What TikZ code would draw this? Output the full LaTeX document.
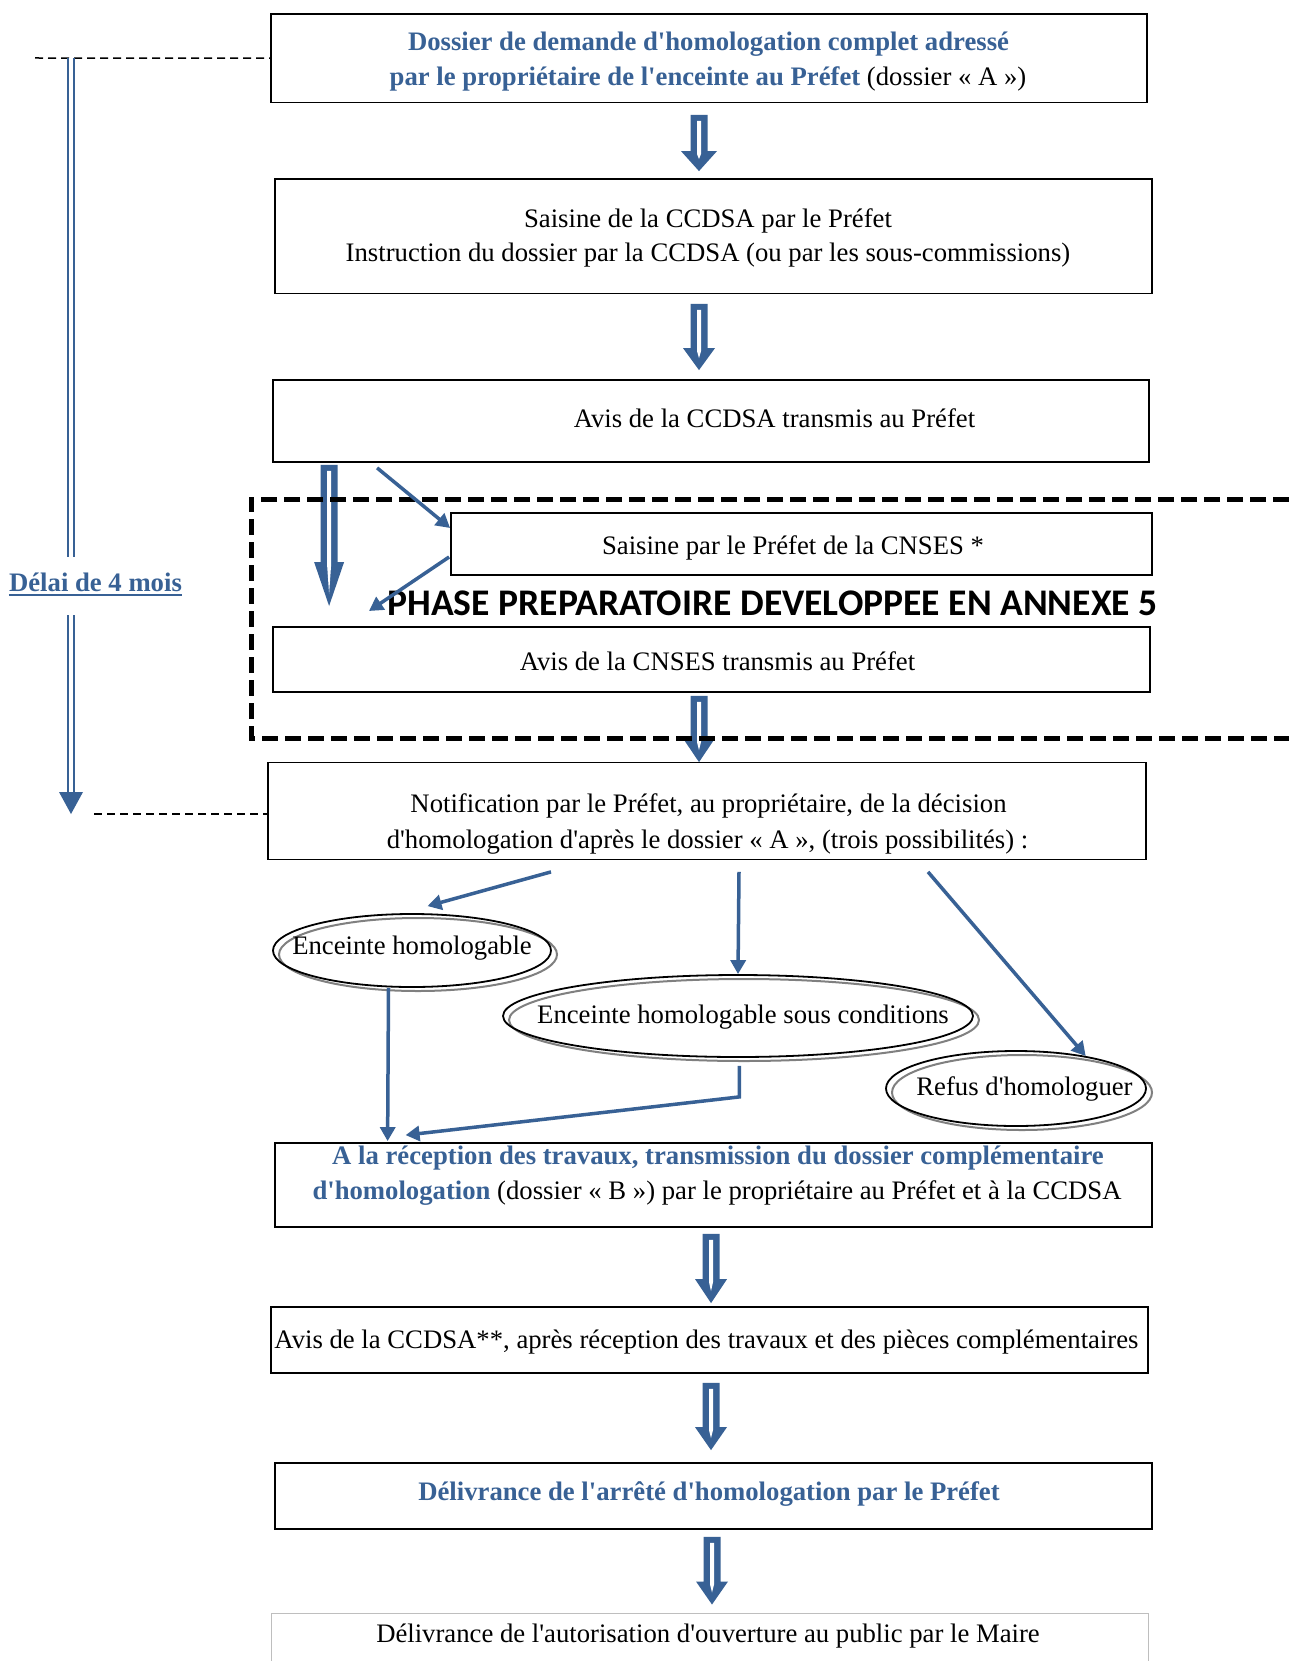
\documentclass[tikz,border=0pt]{standalone}
\usepackage{fontspec}
\setmainfont{Liberation Serif}[Ligatures=TeXOff]
\newfontfamily\calib{Carlito}
\usetikzlibrary{shapes.geometric,arrows.meta,calc}
\definecolor{ablue}{RGB}{56,97,149}
\definecolor{egray}{RGB}{128,128,128}
\definecolor{lgray}{RGB}{190,190,190}
% hollow block arrow: start, end, head length, head half width
\newcommand{\blockarr}[4]{%
  \fill[ablue] let \p1=(#1), \p2=(#2) in
    (\x1-8.5pt,\y1) -- (\x1+8.5pt,\y1) -- (\x1+8.5pt,\y2+#3) -- (\x1+#4,\y2+#3)
    -- (\x1,\y2) -- (\x1-#4,\y2+#3) -- (\x1-8.5pt,\y2+#3) -- cycle;
  \fill[white] let \p1=(#1), \p2=(#2) in
    (\x1-2pt,\y1-6pt) -- (\x1+2pt,\y1-6pt) -- (\x1+2pt,\y2+#3-3pt)
    -- (\x1,\y2+12pt) -- (\x1-2pt,\y2+#3-3pt) -- cycle;}
\tikzset{
  box/.style={draw=black, line width=1.8pt, rectangle, inner sep=0pt},
  lbox/.style={draw=lgray, line width=1pt, rectangle, inner sep=0pt},
  ell/.style={draw=black, line width=1.8pt, ellipse, inner sep=0pt},
  txt/.style={anchor=base, inner sep=0pt},
  bb/.style={txt, text=ablue, font=\fontsize{26.7pt}{32pt}\selectfont\bfseries},
  thinarr/.style={draw=ablue, line width=3.5pt, -{Triangle[length=14pt,width=15pt]}},
  thindash/.style={draw=black, line width=1.5pt, dash pattern=on 8pt off 5pt},
  phasebox/.style={draw=black, line width=5pt, dash pattern=on 16pt off 7pt},
}
\begin{document}
\begin{tikzpicture}[x=1pt,y=-1pt,font=\fontsize{26.7pt}{32pt}\selectfont]
\useasboundingbox (0,0) rectangle (1289,1661);
\fill[white] (0,0) rectangle (1289,1661);

% boxes
\node[box, minimum width=876pt, minimum height=88.5pt] (b1) at (709,58.25) {};
\node[box, minimum width=877pt, minimum height=114.5pt] (b2) at (713.5,236.25) {};
\node[box, minimum width=876pt, minimum height=82pt] (b3) at (711,421) {};
\node[box, minimum width=701pt, minimum height=62pt] (c1) at (801.5,544) {};
\node[box, minimum width=877pt, minimum height=65pt] (c2) at (711.5,659.5) {};
\node[box, minimum width=878pt, minimum height=97pt] (nf) at (707,811) {};
\node[box, minimum width=877pt, minimum height=84pt] (b6) at (713.5,1185) {};
\node[box, minimum width=877pt, minimum height=66pt] (b7) at (709.5,1340) {};
\node[box, minimum width=877pt, minimum height=66pt] (b8) at (713.5,1496) {};
\node[lbox, minimum width=877pt, minimum height=52pt] (b9) at (709.5,1639) {};

% ellipses (grey offset outline, then black)
\draw[egray, line width=2pt] (418,954.5) ellipse [x radius=139pt, y radius=36.5pt];
\draw[egray, line width=2pt] (744,1020) ellipse [x radius=235pt, y radius=41pt];
\draw[egray, line width=2pt] (1022,1092.5) ellipse [x radius=130pt, y radius=37.5pt];
\node[ell, minimum width=278pt, minimum height=73pt] (e1) at (412,950.5) {};
\node[ell, minimum width=470pt, minimum height=82pt] (e2) at (738,1016) {};
\node[ell, minimum width=260pt, minimum height=75pt] (e3) at (1016,1088.5) {};

% texts
\node[bb] (t1a) at (708.5,51) {Dossier de demande d'homologation complet adressé};
\node[txt] (t1b) at (708,86) {{\bfseries\color{ablue}par le propriétaire de l'enceinte au Préfet} (dossier « A »)};
\node[txt] (t2a) at (708,227.5) {Saisine de la CCDSA par le Préfet};
\node[txt] (t2b) at (708,262) {Instruction du dossier par la CCDSA (ou par les sous-commissions)};
\node[txt] (t3) at (774.5,427.5) {Avis de la CCDSA transmis au Préfet};
\node[txt] (tc1) at (793,554.5) {Saisine par le Préfet de la CNSES *};
\node[txt, font=\calib\fontsize{37.6pt}{42pt}\selectfont\bfseries] (tph) at (772.5,615) {PHASE PREPARATOIRE DEVELOPPEE EN ANNEXE 5};
\node[txt] (tc2) at (717.5,670.5) {Avis de la CNSES transmis au Préfet};
\node[txt] (tn1) at (708.5,812.5) {Notification par le Préfet, au propriétaire, de la décision};
\node[txt] (tn2) at (707.5,848) {d'homologation d'après le dossier « A », (trois possibilités) :};
\node[txt] (te1) at (412,954) {Enceinte homologable};
\node[txt] (te2) at (743,1023) {Enceinte homologable sous conditions};
\node[txt] (te3) at (1024.5,1095) {Refus d'homologuer};
\node[bb] (t6a) at (718,1164.5) {A la réception des travaux, transmission du dossier complémentaire};
\node[txt] (t6b) at (717,1199.5) {{\bfseries\color{ablue}d'homologation} (dossier « B ») par le propriétaire au Préfet et à la CCDSA};
\node[txt] (t7) at (706.5,1348) {Avis de la CCDSA**, après réception des travaux et des pièces complémentaires};
\node[bb] (t8) at (709,1500.5) {Délivrance de l'arrêté d'homologation par le Préfet};
\node[txt] (t9) at (708,1642) {Délivrance de l'autorisation d'ouverture au public par le Maire};
\node[bb] (tdl) at (95.5,591.5) {Délai de 4 mois};
\draw[ablue, line width=2pt] ([yshift=-3pt]tdl.base west) -- ([yshift=-3pt]tdl.base east);

% delay column
\coordinate (d0) at (35,58);
\coordinate (v1) at (71,58);
\coordinate (v2) at (71,557);
\coordinate (v3) at (71,615);
\coordinate (v4) at (71,792);
\coordinate (d1) at (94,814);
\draw[thindash] (d0) -- (b1.west);
\draw[thindash] (d1) -- ($(nf.west)+(0,3)$);
\draw[ablue, line width=2pt, double=white, double distance=4pt] (v1) -- (v2);
\draw[ablue, line width=2pt, double=white, double distance=4pt] (v3) -- (v4);
\fill[ablue] (59,792) -- (83,792) -- (71,814) -- cycle;

% block arrows
\coordinate (a1s) at ($(b1.south)+(-10,11.5)$);
\coordinate (a1e) at ($(b2.north)+(-14.5,-7)$);
\coordinate (a2s) at ($(b2.south)+(-14.5,9.5)$);
\coordinate (a2e) at ($(b3.north)+(-12,-9)$);
\coordinate (a3s) at ($(b3.south west)+(57,2)$);
\coordinate (a3e) at (330,606);
\coordinate (a4s) at ($(c2.south)+(-12.5,3)$);
\coordinate (a4e) at ($(nf.north)+(-8,0.5)$);
\coordinate (a5s) at ($(b6.south)+(-2.5,6)$);
\coordinate (a5e) at ($(b7.north)+(1.5,-3)$);
\coordinate (a6s) at ($(b7.south)+(1.5,9)$);
\coordinate (a6e) at ($(b8.north)+(-2.5,-12)$);
\coordinate (a7s) at ($(b8.south)+(-1.5,7)$);
\coordinate (a7e) at ($(b9.north)+(2.5,-8)$);
\blockarr{a1s}{a1e}{20pt}{18pt}
\blockarr{a2s}{a2e}{22pt}{16pt}
\blockarr{a3s}{a3e}{44pt}{15pt}
\blockarr{a4s}{a4e}{23pt}{15.5pt}
\blockarr{a5s}{a5e}{24pt}{16pt}
\blockarr{a6s}{a6e}{23pt}{16pt}
\blockarr{a7s}{a7e}{23pt}{16pt}

% phase frame
\draw[phasebox] (1289,499) -- (251,499) -- (251,738) -- (1289,738);

% thin arrows
\coordinate (p2) at (369,611);
\draw[thinarr] ($(b3.south west)+(105,5)$) -- ($(c1.west)+(0,-16)$);
\draw[thinarr] ($(c1.west)+(-1,13)$) -- (p2);
\draw[thinarr] ($(nf.south)+(-156,11.5)$) -- ($(e1.north)+(15.5,-7)$);
\draw[thinarr] ($(nf.south)+(32,11.5)$) -- (e2.north);
\draw[thinarr] ($(nf.south)+(221,11.5)$) -- (e3.25);
\draw[thinarr] ($(e1.south)+(-23.5,0)$) -- ($(b6.north west)+(113.5,-1)$);
\draw[thinarr] ($(e2.south)+(1.4,8)$) -- ($(e2.south)+(1.4,39)$) -- ($(b6.north west)+(131.5,-7)$);
\end{tikzpicture}
\end{document}
